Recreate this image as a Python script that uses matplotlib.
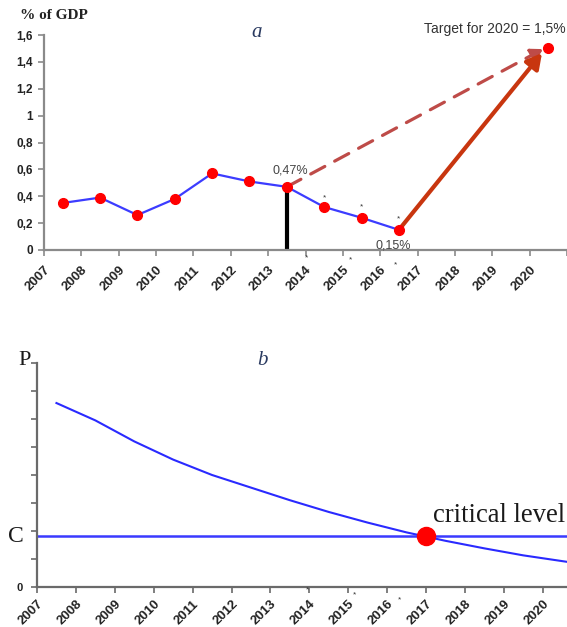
import matplotlib
matplotlib.use("Agg")
import matplotlib.pyplot as plt
from matplotlib.patches import FancyArrowPatch
from matplotlib.transforms import ScaledTranslation

# ---------------- data ----------------
years = [2007, 2008, 2009, 2010, 2011, 2012, 2013, 2014, 2015, 2016]
share_gdp = [0.35, 0.39, 0.26, 0.38, 0.57, 0.51, 0.47, 0.32, 0.24, 0.15]
target_year = 2020
target_value = 1.5
tick_years = list(range(2007, 2022))
tick_labels = ["2007", "2008", "2009", "2010", "2011", "2012", "2013",
               "2014", "2015", "2016", "2017", "2018", "2019", "2020", ""]
starred_years = [2014, 2015, 2016]
yticks_a = [0, 0.2, 0.4, 0.6, 0.8, 1.0, 1.2, 1.4, 1.6]
ytick_labels_a = ["0", "0,2", "0,4", "0,6", "0,8", "1", "1,2", "1,4", "1,6"]
star_values = [0.39, 0.32, 0.23]

# panel b: decreasing curve P and the critical level C
curve_x = [2007.5, 2008.5, 2009.5, 2010.5, 2011.5, 2012.5, 2013.5, 2014.5,
           2015.5, 2016.5, 2017.0, 2017.5, 2018.5, 2019.5, 2020.62]
curve_y = [6.57, 5.95, 5.2, 4.55, 4.0, 3.55, 3.1, 2.68, 2.3, 1.95, 1.8,
           1.65, 1.38, 1.13, 0.9]
critical_level = 1.82
critical_year = 2017
yticks_b = [0, 1, 2, 3, 4, 5, 6, 7, 8]

W, H = 567, 627
fig = plt.figure(figsize=(W / 100, H / 100), dpi=100)

sans = ["Liberation Sans", "DejaVu Sans"]
serif = ["Liberation Serif", "DejaVu Serif"]


def style_xlabels(ax, dx_px, pad, star_offsets):
    ax.set_xticks(tick_years)
    ax.set_xticklabels(tick_labels, rotation=45, ha="right", va="top",
                       rotation_mode="anchor", fontsize=9.5,
                       fontweight="bold", family=sans, color="#222222")
    off = ScaledTranslation(dx_px / 100, 0, fig.dpi_scale_trans)
    for lab in ax.get_xticklabels():
        lab.set_transform(lab.get_transform() + off)
    ax.tick_params(axis="x", length=4, width=1.2, direction="out", pad=pad)
    # asterisks that mark the estimated years
    for yr, (ox, oy) in zip(starred_years, star_offsets):
        ax.annotate("*", xy=(yr, 0), xycoords=("data", "axes fraction"),
                    xytext=(ox * 0.72, oy * 0.72), textcoords="offset points",
                    ha="center", va="center", fontsize=6, family=sans,
                    color="#333333", annotation_clip=False)


# ---------------- panel a ----------------
ax1 = fig.add_axes([44 / W, (H - 250) / H, 523 / W, 215 / H])
for s in ["top", "right"]:
    ax1.spines[s].set_visible(False)
for s in ["left", "bottom"]:
    ax1.spines[s].set_color("#8a8a8a")
    ax1.spines[s].set_linewidth(1.6)

ax1.set_yticks(yticks_a)
ax1.set_yticklabels(ytick_labels_a, fontsize=8.5, fontweight="bold",
                    family=sans, color="#222222")
ax1.tick_params(axis="y", length=4, width=1.2, color="#8a8a8a", pad=4)
style_xlabels(ax1, -4.5, 6, [(1, -8), (8, -10), (15, -15)])
ax1.tick_params(axis="x", color="#8a8a8a")
ax1.set_xlim(2007, 2021)
ax1.set_ylim(0, 1.6)

xs = [y + 0.5 for y in years]
ax1.plot(xs, share_gdp, color="#3c3cff", lw=1.6, zorder=3)
ax1.plot(xs, share_gdp, "o", color="#ff0000", ms=7, zorder=4)

# black vertical bar at 2013
i13 = years.index(2013)
ax1.plot([xs[i13], xs[i13]], [0, share_gdp[i13]], color="black", lw=3,
         zorder=2, solid_capstyle="butt")

tx = target_year + 0.5
# dashed arrow from 2013 to target
dash = FancyArrowPatch((xs[i13], share_gdp[i13]), (tx - 0.14, target_value - 0.005),
                       arrowstyle="-|>,head_length=7,head_width=4",
                       color="#be4b48", lw=2.3, linestyle=(0, (5, 3.5)),
                       shrinkA=0, shrinkB=0, zorder=3)
ax1.add_patch(dash)
# solid arrow from 2016 to target
i16 = years.index(2016)
solid = FancyArrowPatch((xs[i16], share_gdp[i16]), (tx - 0.17, target_value - 0.035),
                        arrowstyle="-|>,head_length=9,head_width=5",
                        color="#c8360f", lw=3, shrinkA=0, shrinkB=0, zorder=3)
ax1.add_patch(solid)
ax1.plot([tx], [target_value], "o", color="#ff0000", ms=7, zorder=5)

ax1.text(2019.07, target_value + 0.145, "Target for 2020 = 1,5%", ha="center",
         va="center", fontsize=10, family=sans, color="#333333",
         clip_on=False)
ax1.text(xs[i13] + 0.1, share_gdp[i13] + 0.12, "0,47%", ha="center",
         va="center", fontsize=9, family=sans, color="#444444")
ax1.text(xs[i16] - 0.15, share_gdp[i16] - 0.12, "0,15%", ha="center",
         va="center", fontsize=9, family=sans, color="#444444")
for yr, v in zip(starred_years, star_values):
    ax1.text(yr + 0.5, v, "*", ha="center", va="center", fontsize=6,
             family=sans, color="#333333")

ax1.text(0.019, 1.093, "% of GDP", transform=ax1.transAxes, ha="center",
         va="center", fontsize=11, fontweight="bold", family=serif,
         color="#222222")
ax1.text(0.407, 1.01, "a", transform=ax1.transAxes, ha="center",
         va="center", fontsize=15, style="italic", family=serif,
         color="#2a3a60")

# ---------------- panel b ----------------
ax2 = fig.add_axes([37 / W, 40 / H, 530 / W, 224 / H])
for s in ["top", "right"]:
    ax2.spines[s].set_visible(False)
for s in ["left", "bottom"]:
    ax2.spines[s].set_color("#6a6a6a")
    ax2.spines[s].set_linewidth(1.6)

ax2.set_yticks(yticks_b)
ax2.set_yticklabels(["0"] + [""] * (len(yticks_b) - 1), fontsize=8,
                    fontweight="bold", family=sans, color="#222222")
ax2.tick_params(axis="y", length=4, width=1.2, color="#6a6a6a", pad=6)
style_xlabels(ax2, 2, 4, [(-2, -3), (6, -8), (12, -13)])
ax2.tick_params(axis="x", color="#6a6a6a")
ax2.set_xlim(2007, 2007 + 530 / 38.9)
ax2.set_ylim(0, 8)

ax2.axhline(critical_level, color="#3a3aff", lw=1.8, zorder=2)
ax2.plot(curve_x, curve_y, color="#2a2aff", lw=1.5, zorder=3)
ax2.plot([critical_year], [critical_level], "o", color="#ff0000", ms=13,
         zorder=4)

ax2.text(critical_year + 0.17, critical_level + 0.5, "critical level",
         ha="left", va="baseline", fontsize=19.2, family=serif,
         color="#1a1a1a")
ax2.text(-0.04, critical_level, "C", transform=ax2.get_yaxis_transform(),
         ha="center", va="center", fontsize=17, family=serif,
         color="#1a1a1a")
ax2.text(-0.023, 1.013, "P", transform=ax2.transAxes, ha="center",
         va="center", fontsize=16, family=serif, color="#1a1a1a")
ax2.text(0.426, 1.013, "b", transform=ax2.transAxes, ha="center",
         va="center", fontsize=15, style="italic", family=serif,
         color="#2a3a60")

fig.savefig("out.png", dpi=100)
